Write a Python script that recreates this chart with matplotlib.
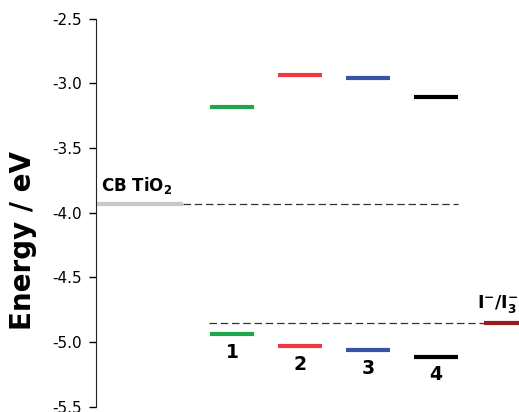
import matplotlib
matplotlib.use("Agg")
import matplotlib.pyplot as plt

plt.rcParams['font.family'] = ['DejaVu Sans']

# dye levels (eV)
dye_labels = ["1", "2", "3", "4"]
dye_colors = ["#1ba84b", "#f0393f", "#3953a4", "#000000"]
lumo = [-3.18, -2.94, -2.96, -3.11]
homo = [-4.94, -5.035, -5.065, -5.115]

tio2_cb = -3.935
redox = -4.855

fig = plt.figure(figsize=(5.19, 4.12), dpi=100)
ax = fig.add_axes([0.185, 0.013, 0.815, 0.942])

xs = [2, 3, 4, 5]
hw = 0.32
lw = 3

for x, c, lu, ho in zip(xs, dye_colors, lumo, homo):
    ax.plot([x - hw, x + hw], [lu, lu], color=c, lw=lw, solid_capstyle='butt')
    ax.plot([x - hw, x + hw], [ho, ho], color=c, lw=lw, solid_capstyle='butt')

for x, lab, ho in zip(xs, dye_labels, homo):
    ax.annotate(lab, (x, ho), xytext=(0, -6), textcoords='offset points',
                ha='center', va='top', fontsize=13.5, fontweight='bold')

# TiO2 conduction band
ax.plot([0, 1.28], [tio2_cb, tio2_cb], color="#c8c8c8", lw=lw, solid_capstyle='butt')
ax.plot([1.28, 5.32], [tio2_cb, tio2_cb], color="#333333", lw=0.9, ls=(0, (6, 3)))
ax.text(0.08, tio2_cb + 0.065, r"CB TiO$_\mathbf{2}$", fontsize=12, fontweight='bold',
        va='bottom', ha='left')

# redox couple
ax.plot([1.66, 5.7], [redox, redox], color="#333333", lw=0.9, ls=(0, (6, 3)))
ax.plot([5.7, 6.5], [redox, redox], color="#9b1c20", lw=lw, solid_capstyle='butt',
        clip_on=False)
ax.text(5.6, redox + 0.065, r"$\mathbf{I^{-}/I_{3}^{-}}$", fontsize=12.5,
        va='bottom', ha='left', clip_on=False)

ax.set_xlim(0, 6.22)
ax.set_ylim(-5.5, -2.5)
ax.set_yticks([-2.5, -3.0, -3.5, -4.0, -4.5, -5.0, -5.5])
ax.set_yticklabels(["-2.5", "-3.0", "-3.5", "-4.0", "-4.5", "-5.0", "-5.5"])
ax.tick_params(axis='y', direction='out', length=5, width=1, labelsize=11, pad=5)
ax.set_xticks([])
for s in ['top', 'right', 'bottom']:
    ax.spines[s].set_visible(False)
ax.spines['left'].set_color("#222222")

ax.set_ylabel("Energy / eV", fontsize=20, fontweight='bold')
ax.yaxis.set_label_coords(-0.139, 0.427)

fig.savefig("out.png", dpi=100)
